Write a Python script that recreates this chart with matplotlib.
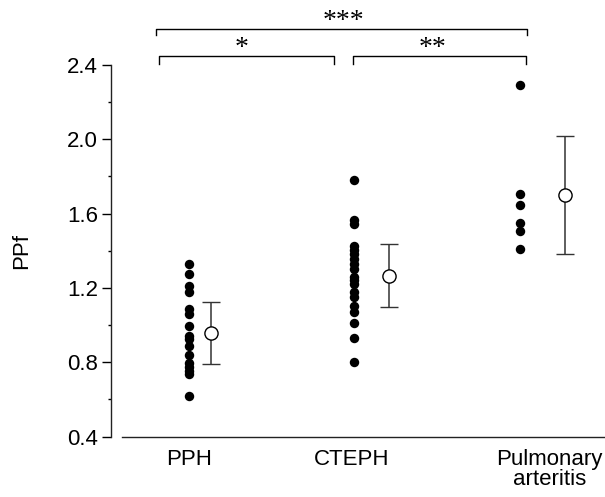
import matplotlib
matplotlib.use("Agg")
import matplotlib.pyplot as plt
from matplotlib.ticker import MultipleLocator

plt.rcParams['font.family'] = ['Liberation Sans Narrow', 'Liberation Sans', 'DejaVu Sans']

groups = ["PPH", "CTEPH", "Pulmonary\narteritis"]

pph = [1.33, 1.275, 1.21, 1.18, 1.085, 1.06, 0.994, 0.94, 0.923, 0.886,
       0.838, 0.794, 0.772, 0.754, 0.734, 0.62]
cteph = [1.78, 1.565, 1.545, 1.425, 1.405, 1.38, 1.355, 1.33, 1.30, 1.26,
         1.24, 1.22, 1.18, 1.15, 1.10, 1.07, 1.01, 0.93, 0.80]
pa = [2.295, 1.704, 1.645, 1.552, 1.506, 1.412]
values = [pph, cteph, pa]

means = [0.955, 1.265, 1.70]
sds = [0.167, 0.17, 0.32]

# layout offsets (category units)
dot_x = [0.0, 1.0, 2.0]
mean_x = [0.133, 1.208, 2.272]
label_x = [0.0, 0.985, 2.18]

# significance brackets: (x1, x2, y, label, label_x, label_y)
brackets = [
    (-0.20, 2.04, 2.595, "***", 0.933, 2.635),
    (-0.18, 0.876, 2.451, "*", 0.32, 2.49),
    (0.99, 2.036, 2.451, "**", 1.474, 2.49),
]
bracket_drop = [0.033, 0.045, 0.045]

fig = plt.figure(figsize=(6.05, 4.97), dpi=100)
ax = fig.add_axes([0.184, 0.1217, 0.816, 0.7475])

for x, vals in zip(dot_x, values):
    ax.plot([x] * len(vals), vals, 'o', color='black', markersize=6.8,
            markeredgewidth=0, clip_on=False)

ax.errorbar(mean_x, means, yerr=sds, fmt='o', color='#333333', ecolor='#333333',
            elinewidth=1.1, capsize=6.5, capthick=1.1, markersize=9.5,
            markerfacecolor='white', markeredgecolor='black', markeredgewidth=1.0,
            zorder=3)

for (x1, x2, y, lab, lx, ly), d in zip(brackets, bracket_drop):
    ax.plot([x1, x1, x2, x2], [y - d, y, y, y - d], color='black', lw=1.0,
            clip_on=False)
    ax.text(lx, ly, lab, ha='center', va='center', fontsize=20,
            family=['Liberation Serif', 'DejaVu Serif'])

ax.set_xlim(-0.469, 2.514)
ax.set_ylim(0.4, 2.4)

ax.spines['top'].set_visible(False)
ax.spines['right'].set_visible(False)
ax.spines['left'].set_bounds(0.4, 2.4)
ax.spines['bottom'].set_bounds(-0.405, 2.514)
ax.spines['left'].set_linewidth(1.0)
ax.spines['bottom'].set_linewidth(1.0)
ax.spines['left'].set_color('#222222')
ax.spines['bottom'].set_color('#222222')

ax.yaxis.set_major_locator(MultipleLocator(0.4))
ax.yaxis.set_minor_locator(MultipleLocator(0.2))
ax.set_yticks([0.4, 0.8, 1.2, 1.6, 2.0, 2.4])
ax.set_yticklabels(["0.4", "0.8", "1.2", "1.6", "2.0", "2.4"])
ax.tick_params(axis='y', which='major', length=6.5, width=1.0, pad=3,
               labelsize=16, direction='out')
ax.tick_params(axis='y', which='minor', length=2.5, width=1.0, direction='out')

ax.set_xticks(label_x)
ax.set_xticklabels(groups, fontsize=16, linespacing=0.95)
ax.tick_params(axis='x', length=0, pad=9)

ax.set_ylabel("PPf", fontsize=16)
ax.yaxis.set_label_coords(-0.16, 0.5)

fig.savefig("out.png", dpi=100)
